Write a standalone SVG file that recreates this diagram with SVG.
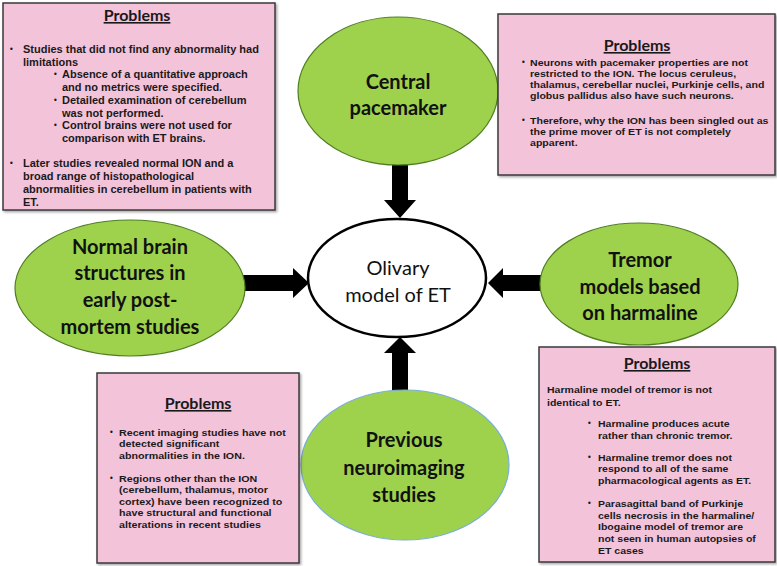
<svg xmlns="http://www.w3.org/2000/svg" width="777" height="566" viewBox="0 0 777 566">
<defs>
<style>
.box{fill:#f3c3da;stroke:#3a3a3a;stroke-width:1.5}
.node{fill:#9ed24c;stroke:#4f7d22;stroke-width:1.2}
.t{font-family:"Liberation Sans",Arial,sans-serif;font-weight:bold;fill:#1a1a1a}
.s1{font-size:11px}
.s2{font-size:9.5px}
.s4{font-size:9.9px}
.b{font-family:"DejaVu Sans",sans-serif;font-size:8px;fill:#1a1a1a}
.h{font-family:Lato,"Liberation Sans",sans-serif;font-weight:bold;fill:#1a1a1a;font-size:16px;text-decoration:underline;text-anchor:middle}
.lab{font-family:Lato,"Liberation Sans",sans-serif;font-weight:bold;font-size:20px;fill:#111;text-anchor:middle}
.arrow{fill:#000}
</style>
<filter id="sh" x="-5%" y="-5%" width="112%" height="112%">
<feDropShadow dx="1.5" dy="1.5" stdDeviation="1.2" flood-color="#000" flood-opacity="0.35"/>
</filter>
</defs>
<rect width="777" height="566" fill="#fff"/>

<g id="connectors">
<polygon class="arrow" points="392,160 408,160 408,200 416,200 400,218 384,200 392,200"/>
<polygon class="arrow" points="392,395 408,395 408,353 416,353 400,337 384,353 392,353"/>
<polygon class="arrow" points="240,275 293,275 293,268 309,283 293,298 293,291 240,291"/>
<polygon class="arrow" points="546,275 503,275 503,268 488,283 503,298 503,291 546,291"/>
</g>

<g id="olivary">
<ellipse cx="397" cy="278" rx="89" ry="59" fill="#fff" stroke="#000" stroke-width="2.5"/>
<text style="font-family:Lato,'Liberation Sans',sans-serif;font-size:20px;fill:#111;text-anchor:middle"><tspan x="398" y="275">Olivary</tspan><tspan x="398" y="302">model of ET</tspan></text>
</g>

<g id="central-pacemaker">
<ellipse class="node" cx="398" cy="91" rx="100" ry="74"/>
<text class="lab"><tspan x="398" y="89">Central</tspan><tspan x="398" y="115">pacemaker</tspan></text>
</g>

<g id="normal-brain">
<ellipse class="node" cx="130" cy="288" rx="115" ry="68"/>
<text class="lab"><tspan x="130" y="254">Normal brain</tspan><tspan x="130" y="280">structures in</tspan><tspan x="130" y="307">early post-</tspan><tspan x="130" y="334">mortem studies</tspan></text>
</g>

<g id="tremor-models">
<ellipse class="node" cx="639" cy="284" rx="99" ry="61"/>
<text class="lab"><tspan x="640" y="267">Tremor</tspan><tspan x="640" y="294">models based</tspan><tspan x="640" y="320">on harmaline</tspan></text>
</g>

<g id="neuroimaging">
<ellipse cx="405" cy="465" rx="104" ry="75" fill="#9ed24c" stroke="#7aaed6" stroke-width="1.2"/>
<text class="lab"><tspan x="404" y="447">Previous</tspan><tspan x="404" y="475">neuroimaging</tspan><tspan x="404" y="502">studies</tspan></text>
</g>

<g id="problems-postmortem">
<rect class="box" x="3" y="3" width="272" height="207" filter="url(#sh)"/>
<text class="h" x="137" y="21">Problems</text>
<text class="b" x="9" y="52">•</text>
<text class="t s1"><tspan x="23" y="53">Studies that did not find any abnormality had</tspan><tspan x="23" y="65.7">limitations</tspan></text>
<text class="b" x="53" y="77.4">•</text>
<text class="t s1"><tspan x="62" y="78.4">Absence of a quantitative approach</tspan><tspan x="62" y="91.1">and no metrics were specified.</tspan></text>
<text class="b" x="53" y="102.8">•</text>
<text class="t s1"><tspan x="62" y="103.8">Detailed examination of cerebellum</tspan><tspan x="62" y="116.6">was not performed.</tspan></text>
<text class="b" x="53" y="128.3">•</text>
<text class="t s1"><tspan x="62" y="129.3">Control brains were not used for</tspan><tspan x="62" y="142">comparison with ET brains.</tspan></text>
<text class="b" x="9" y="166">•</text>
<text class="t s1"><tspan x="23" y="167">Later studies revealed normal ION and a</tspan><tspan x="23" y="180">broad range of histopathological</tspan><tspan x="23" y="193">abnormalities in cerebellum in patients with</tspan><tspan x="23" y="206">ET.</tspan></text>
</g>

<g id="problems-pacemaker">
<rect class="box" x="498" y="14" width="277" height="161" filter="url(#sh)"/>
<text class="h" x="637" y="51">Problems</text>
<text class="b" x="521" y="65">•</text>
<text class="b" x="521" y="123">•</text>
<g transform="translate(530,0) scale(1.113,1)">
<text class="t s2"><tspan x="0" y="66">Neurons with pacemaker properties are not</tspan><tspan x="0" y="77">restricted to the ION. The locus ceruleus,</tspan><tspan x="0" y="88">thalamus, cerebellar nuclei, Purkinje cells, and</tspan><tspan x="0" y="99">globus pallidus also have such neurons.</tspan></text>
<text class="t s2"><tspan x="0" y="124">Therefore, why the ION has been singled out as</tspan><tspan x="0" y="135">the prime mover of ET is not completely</tspan><tspan x="0" y="146">apparent.</tspan></text>
</g>
</g>

<g id="problems-harmaline">
<rect class="box" x="539" y="347" width="236" height="215" filter="url(#sh)"/>
<text class="h" x="657" y="369">Problems</text>
<text class="b" x="587" y="426">•</text>
<text class="b" x="587" y="460">•</text>
<text class="b" x="587" y="506">•</text>
<g transform="translate(547,0) scale(1.11,1)">
<text class="t s2"><tspan x="0" y="393">Harmaline model of tremor is not</tspan><tspan x="0" y="406">identical to ET.</tspan></text>
</g>
<g transform="translate(598,0) scale(1.11,1)">
<text class="t s2"><tspan x="0" y="427">Harmaline produces acute</tspan><tspan x="0" y="439">rather than chronic tremor.</tspan></text>
<text class="t s2"><tspan x="0" y="461">Harmaline tremor does not</tspan><tspan x="0" y="472.5">respond to all of the same</tspan><tspan x="0" y="484">pharmacological agents as ET.</tspan></text>
<text class="t s2"><tspan x="0" y="507">Parasagittal band of Purkinje</tspan><tspan x="0" y="518.75">cells necrosis in the harmaline/</tspan><tspan x="0" y="530.5">Ibogaine model of tremor are</tspan><tspan x="0" y="542.25">not seen in human autopsies of</tspan><tspan x="0" y="554">ET cases</tspan></text>
</g>
</g>

<g id="problems-neuroimaging">
<rect class="box" x="97" y="373" width="202" height="190" filter="url(#sh)"/>
<text class="h" x="198" y="409">Problems</text>
<text class="b" x="109" y="435">•</text>
<text class="b" x="109" y="481">•</text>
<g transform="translate(119,0) scale(1.08,1)">
<text class="t s4"><tspan x="0" y="436">Recent imaging studies have not</tspan><tspan x="0" y="447.5">detected significant</tspan><tspan x="0" y="459">abnormalities in the ION.</tspan></text>
<text class="t s4"><tspan x="0" y="482">Regions other than the ION</tspan><tspan x="0" y="493.5">(cerebellum, thalamus, motor</tspan><tspan x="0" y="505">cortex) have been recognized to</tspan><tspan x="0" y="516.5">have structural and functional</tspan><tspan x="0" y="528">alterations in recent studies</tspan></text>
</g>
</g>
</svg>
